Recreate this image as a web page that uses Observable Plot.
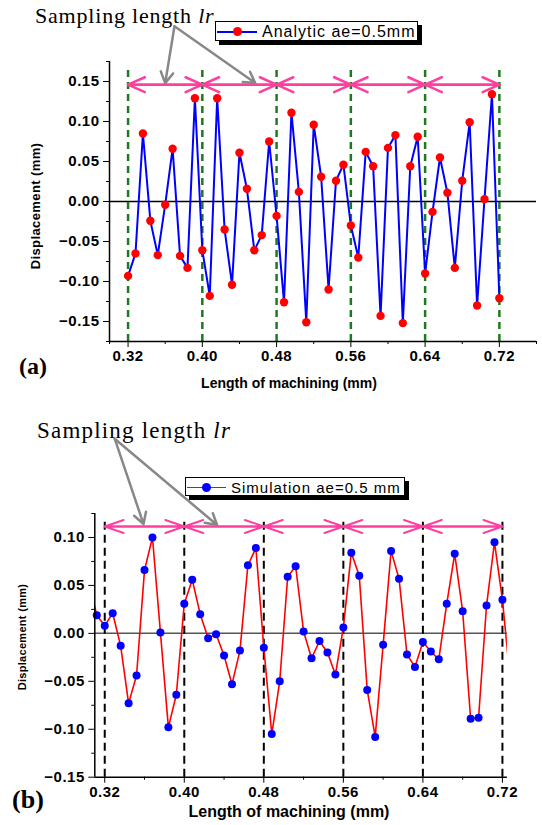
<!DOCTYPE html>
<html><head><meta charset="utf-8">
<script src="https://cdn.jsdelivr.net/npm/d3@7"></script>
<script src="https://cdn.jsdelivr.net/npm/@observablehq/plot@0.6"></script>
<style>
body{margin:0;background:#fff;}
#wrap{position:relative;width:542px;height:825px;overflow:hidden;font-family:"Liberation Sans",Arial,sans-serif;color:#000;}
.abs{position:absolute;white-space:nowrap;line-height:1;}
.samp{font-family:"Liberation Serif","Times New Roman",serif;}
.c{transform:translate(-50%,-50%);}
.rot{transform:translate(-50%,-50%) rotate(-90deg);}
.legend{position:absolute;background:#fff;border:1px solid #000;box-shadow:4px 4px 0 #000;box-sizing:border-box;}
.lline{position:absolute;height:1.6px;}
.ldot{position:absolute;border-radius:50%;}
.ltext{position:absolute;white-space:nowrap;line-height:1;font-family:"Liberation Sans",Arial,sans-serif;}
svg{position:absolute;left:0;}
</style></head><body><div id="wrap"></div>
<script>
// ---------- data ----------
const lengthTop = [0.320,0.328,0.336,0.344,0.352,0.360,0.368,0.376,0.384,0.392,0.400,0.408,0.416,0.424,0.432,0.440,0.448,0.456,0.464,0.472,0.480,0.488,0.496,0.504,0.512,0.520,0.528,0.536,0.544,0.552,0.560,0.568,0.576,0.584,0.592,0.600,0.608,0.616,0.624,0.632,0.640,0.648,0.656,0.664,0.672,0.680,0.688,0.696,0.704,0.712,0.720];
const analytic = [-0.093,-0.065,0.085,-0.024,-0.067,-0.004,0.066,-0.068,-0.083,0.129,-0.061,-0.118,0.129,-0.035,-0.104,0.061,0.016,-0.061,-0.042,0.075,-0.018,-0.126,0.111,0.012,-0.151,0.096,0.031,-0.110,0.026,0.046,-0.030,-0.070,0.062,0.044,-0.143,0.067,0.083,-0.152,0.044,0.081,-0.090,-0.013,0.055,0.011,-0.083,0.026,0.099,-0.130,0.003,0.134,-0.121];
const lengthBottom = [0.304,0.312,0.320,0.328,0.336,0.344,0.352,0.360,0.368,0.376,0.384,0.392,0.400,0.408,0.416,0.424,0.432,0.440,0.448,0.456,0.464,0.472,0.480,0.488,0.496,0.504,0.512,0.520,0.528,0.536,0.544,0.552,0.560,0.568,0.576,0.584,0.592,0.600,0.608,0.616,0.624,0.632,0.640,0.648,0.656,0.664,0.672,0.680,0.688,0.696,0.704,0.712,0.720,0.728];
const simulation = [0.053,0.019,0.008,0.021,-0.013,-0.073,-0.044,0.066,0.100,0.001,-0.098,-0.064,0.031,0.056,0.020,-0.005,-0.001,-0.023,-0.053,-0.018,0.071,0.089,-0.015,-0.105,-0.050,0.059,0.070,0.002,-0.026,-0.008,-0.020,-0.043,0.006,0.084,0.060,-0.059,-0.108,-0.012,0.086,0.057,-0.022,-0.035,-0.009,-0.019,-0.027,0.031,0.083,0.023,-0.089,-0.088,0.029,0.095,0.035,-0.050];
const samplingBounds = [0.32,0.40,0.48,0.56,0.64,0.72];
const xTickLabels = [0.32,0.40,0.48,0.56,0.64,0.72];
const xMinorTop = [0.30,0.36,0.44,0.52,0.60,0.68,0.76];
const xMinorBottom = [0.36,0.44,0.52,0.60,0.68];
const yTicksTop = [-0.15,-0.10,-0.05,0,0.05,0.10,0.15];
const yMinorTop = [-0.175,-0.125,-0.075,-0.025,0.025,0.075,0.125,0.175];
const yTicksBottom = [-0.15,-0.10,-0.05,0,0.05,0.10];
const yMinorBottom = [-0.125,-0.075,-0.025,0.025,0.075,0.125];
// annotation anchors (data units)
const topArrowFrom = [[0.370,0.219],[0.370,0.219]];
const topArrowTo = [[0.360,0.148],[0.457,0.148]];
const botArrowFrom = [[0.330,0.203],[0.330,0.203]];
const botArrowTo = [[0.359,0.114],[0.433,0.113]];
const topSpanLevel = 0.146;
const botSpanLevel = 0.1115;

// ---------- build ----------
const segs = samplingBounds.slice(0,-1).map((a,i)=>({a, b: samplingBounds[i+1]}));
const topPts = lengthTop.map((x,i)=>({x, y: analytic[i]}));
const botPts = lengthBottom.map((x,i)=>({x, y: simulation[i]}));
const f2 = d3.format(".2f");
const topArr = topArrowFrom.map((p,i)=>({x1:p[0],y1:p[1],x2:topArrowTo[i][0],y2:topArrowTo[i][1]}));
const botArr = botArrowFrom.map((p,i)=>({x1:p[0],y1:p[1],x2:botArrowTo[i][0],y2:botArrowTo[i][1]}));

const baseStyle = {fontFamily:"'Liberation Sans', Arial, sans-serif", fontSize:"15px", fontWeight:"bold", color:"#000", background:"transparent", overflow:"visible", letterSpacing:"0.5px"};

const xT = [0.30, 0.76], yT = [-0.175, 0.175];
const topChart = Plot.plot({
  width: 542, height: 400,
  marginLeft: 109, marginRight: 6, marginTop: 61, marginBottom: 59,
  x: {domain: xT, label: null},
  y: {domain: yT, label: null},
  style: baseStyle,
  marks: [
    Plot.ruleY([0], {x1: xT[0], x2: xT[1], stroke: "#000", strokeWidth: 1.5}),
    Plot.ruleX(samplingBounds, {y1: yT[0], y2: 0.168, stroke: "#1f7a1f", strokeWidth: 2.5, strokeDasharray: "7,5"}),
    Plot.arrow(segs, {x1: "a", x2: "b", y1: topSpanLevel, y2: topSpanLevel, stroke: "#ff3fa0", strokeWidth: 2.5, headAngle: 48, headLength: 11}),
    Plot.arrow(segs, {x1: "b", x2: "a", y1: topSpanLevel, y2: topSpanLevel, stroke: "#ff3fa0", strokeWidth: 2.5, headAngle: 48, headLength: 11}),
    Plot.arrow(topArr, {x1:"x1", y1:"y1", x2:"x2", y2:"y2", stroke: "#888", strokeWidth: 2.5, headAngle: 60, headLength: 7.5}),
    Plot.line(topPts, {x: "x", y: "y", stroke: "#0000ff", strokeWidth: 2}),
    Plot.dot(topPts, {x: "x", y: "y", r: 4.2, fill: "#ff0000", stroke: "none"}),
    Plot.ruleX([xT[0]], {y1: yT[0], y2: yT[1], stroke: "#000", strokeWidth: 1.5}),
    Plot.ruleY([yT[0]], {x1: xT[0], x2: xT[1], stroke: "#000", strokeWidth: 1.5}),
    Plot.axisX({ticks: xTickLabels, tickFormat: f2, tickSize: 6, tickPadding: 3, label: null}),
    Plot.axisX({ticks: xMinorTop, tickFormat: () => "", tickSize: 3, label: null}),
    Plot.axisY({ticks: yTicksTop, tickFormat: f2, tickSize: 6, tickPadding: 4, label: null}),
    Plot.axisY({ticks: yMinorTop, tickFormat: () => "", tickSize: 3, label: null})
  ]
});
topChart.style.top = "0px";

const xB = [0.31, 0.725], yB = [-0.15, 0.125];
const botChart = Plot.plot({
  width: 542, height: 425,
  marginLeft: 94.3, marginRight: 35.1, marginTop: 113, marginBottom: 48.3,
  x: {domain: xB, label: null},
  y: {domain: yB, label: null},
  style: baseStyle,
  marks: [
    Plot.ruleY([0], {x1: xB[0], x2: xB[1], stroke: "#555", strokeWidth: 1.5}),
    Plot.ruleX(samplingBounds, {y1: yB[0], y2: 0.12, stroke: "#000", strokeWidth: 2, strokeDasharray: "8,5"}),
    Plot.arrow(segs, {x1: "a", x2: "b", y1: botSpanLevel, y2: botSpanLevel, stroke: "#ff3fa0", strokeWidth: 2, headAngle: 38, headLength: 15}),
    Plot.arrow(segs, {x1: "b", x2: "a", y1: botSpanLevel, y2: botSpanLevel, stroke: "#ff3fa0", strokeWidth: 2, headAngle: 38, headLength: 15}),
    Plot.arrow(botArr, {x1:"x1", y1:"y1", x2:"x2", y2:"y2", stroke: "#888", strokeWidth: 2.5, headAngle: 60, headLength: 7.5}),
    Plot.line(botPts, {x: "x", y: "y", stroke: "#ff0000", strokeWidth: 1.6, clip: true}),
    Plot.dot(botPts.filter(d => d.x >= xB[0] && d.x <= xB[1]), {x: "x", y: "y", r: 4, fill: "#0000ff", stroke: "none"}),
    Plot.ruleX([xB[0]], {y1: yB[0], y2: yB[1], stroke: "#000", strokeWidth: 1.5}),
    Plot.ruleY([yB[0]], {x1: xB[0], x2: xB[1], stroke: "#000", strokeWidth: 1.5}),
    Plot.axisX({ticks: xTickLabels, tickFormat: f2, tickSize: 6, tickPadding: 3, label: null}),
    Plot.axisX({ticks: xMinorBottom, tickFormat: () => "", tickSize: 3, label: null}),
    Plot.axisY({ticks: yTicksBottom, tickFormat: f2, tickSize: 6, tickPadding: 4, label: null}),
    Plot.axisY({ticks: yMinorBottom, tickFormat: () => "", tickSize: 3, label: null})
  ]
});
botChart.style.top = "400px";

const wrap = document.getElementById("wrap");
wrap.appendChild(topChart);
wrap.appendChild(botChart);

function addDiv(html, cls, css){
  const d = document.createElement("div");
  d.className = cls; d.innerHTML = html; d.style.cssText = css; wrap.appendChild(d); return d;
}
// sampling texts
addDiv('Sampling length <i>lr</i>', 'abs samp', 'left:35px;top:5px;font-size:22px;letter-spacing:0.8px;');
addDiv('Sampling length <i>lr</i>', 'abs samp', 'left:37px;top:419px;font-size:23px;letter-spacing:1.2px;');
// axis titles
addDiv('Displacement (mm)', 'abs rot', 'left:35px;top:206px;font-size:13px;font-weight:bold;letter-spacing:0.4px;');
addDiv('Displacement (mm)', 'abs rot', 'left:22px;top:637px;font-size:11px;font-weight:bold;letter-spacing:0.3px;');
addDiv('Length of machining (mm)', 'abs c', 'left:289px;top:383px;font-size:14px;font-weight:bold;');
addDiv('Length of machining (mm)', 'abs c', 'left:289px;top:812px;font-size:16px;font-weight:bold;');
// panel tags
addDiv('(a)', 'abs c samp', 'left:33px;top:366px;font-size:24px;font-weight:bold;');
addDiv('(b)', 'abs c samp', 'left:28px;top:800px;font-size:26px;font-weight:bold;');
// legends
addDiv('<div class="lline" style="left:1px;top:9px;width:40px;background:#0000ff"></div>'+
       '<div class="ldot" style="left:17px;top:5px;width:9px;height:9px;background:#ff0000"></div>'+
       '<div class="ltext" style="left:46px;top:2px;font-size:16px;letter-spacing:1px;">Analytic ae=0.5mm</div>',
       'legend', 'left:215px;top:21px;width:203px;height:20px;');
addDiv('<div class="lline" style="left:1px;top:8.5px;width:39px;background:#ff0000"></div>'+
       '<div class="ldot" style="left:16px;top:4.5px;width:9px;height:9px;background:#0000ff"></div>'+
       '<div class="ltext" style="left:45px;top:2px;font-size:15px;letter-spacing:1px;">Simulation ae=0.5 mm</div>',
       'legend', 'left:185px;top:477px;width:220px;height:19px;');
</script>
</body></html>
